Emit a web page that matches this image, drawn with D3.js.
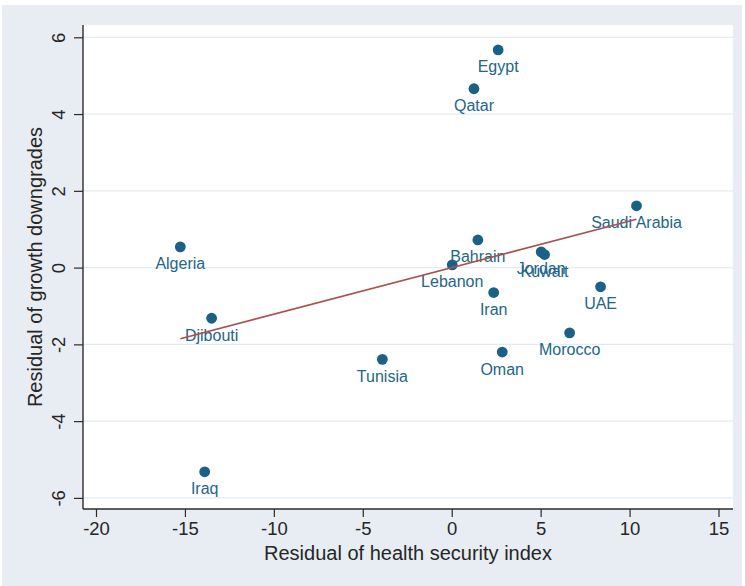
<!DOCTYPE html>
<html>
<head>
<meta charset="utf-8">
<script src="https://cdn.jsdelivr.net/npm/d3@7"></script>
<style>
  body { margin: 0; background: #ffffff; }
  svg { display: block; font-family: "Liberation Sans", Arial, Helvetica, sans-serif; }
</style>
</head>
<body>
<svg id="chart" width="745" height="586"></svg>
<script>
// Country residuals: health security index (x) vs growth downgrades (y)
const countries = ["Egypt", "Qatar", "Saudi Arabia", "Algeria", "Bahrain", "Lebanon",
  "Jordan", "Kuwait", "Iran", "UAE", "Morocco", "Oman", "Tunisia", "Djibouti", "Iraq"];
const healthResid = [2.61, 1.25, 10.39, -15.26, 1.47, 0.03,
  5.03, 5.22, 2.36, 8.37, 6.63, 2.84, -3.90, -13.50, -13.89];
const growthResid = [5.67, 4.66, 1.61, 0.54, 0.72, 0.07,
  0.41, 0.34, -0.65, -0.50, -1.70, -2.20, -2.39, -1.32, -5.32];

const xTicks = [-20, -15, -10, -5, 0, 5, 10, 15];
const yTicks = [-6, -4, -2, 0, 2, 4, 6];

const xTitle = "Residual of health security index";
const yTitle = "Residual of growth downgrades";

const svg = d3.select("#chart");
const W = 745, H = 586;

// plot region
const plot = { left: 83, right: 733, top: 25, bottom: 509 };

const x = d3.scaleLinear().domain([-20, 15]).range([96, 718.5]);
const y = d3.scaleLinear().domain([-6, 6]).range([497.9, 37.3]);

const markerColor = "#1b6187";
const labelColor = "#22668a";
const axisColor = "#2b2b2b";
const textColor = "#262626";

// plain hyphen-minus tick labels
const tickFmt = d => String(d);

// graph region background
svg.append("rect")
  .attr("x", 2).attr("y", 5)
  .attr("width", 740).attr("height", H - 5)
  .attr("fill", "#e7edf2");

// plot region
svg.append("rect")
  .attr("x", plot.left).attr("y", plot.top)
  .attr("width", plot.right - plot.left).attr("height", plot.bottom - plot.top)
  .attr("fill", "#ffffff");

// horizontal gridlines
svg.append("g")
  .selectAll("line")
  .data(yTicks)
  .join("line")
  .attr("x1", plot.left).attr("x2", plot.right)
  .attr("y1", d => y(d)).attr("y2", d => y(d))
  .attr("stroke", "#e3ebf1")
  .attr("stroke-width", 1.2);

// x axis
const xAxis = svg.append("g")
  .attr("transform", `translate(0,${plot.bottom})`)
  .call(d3.axisBottom(x).tickValues(xTicks).tickFormat(tickFmt)
    .tickSize(8).tickPadding(5).tickSizeOuter(0));
xAxis.select(".domain").remove();
xAxis.selectAll(".tick line").attr("stroke", axisColor).attr("stroke-width", 1.2);
xAxis.selectAll(".tick text")
  .attr("fill", textColor)
  .attr("font-size", 18.5)
  .attr("font-family", "Liberation Sans, Arial, sans-serif");
svg.append("line")
  .attr("x1", plot.left).attr("x2", plot.right)
  .attr("y1", plot.bottom).attr("y2", plot.bottom)
  .attr("stroke", axisColor).attr("stroke-width", 1.4);

// y axis with vertical tick labels
const yAxis = svg.append("g")
  .attr("transform", `translate(${plot.left},0)`)
  .call(d3.axisLeft(y).tickValues(yTicks).tickFormat(tickFmt).tickSize(9).tickSizeOuter(0));
yAxis.select(".domain").remove();
yAxis.selectAll(".tick line").attr("stroke", axisColor).attr("stroke-width", 1.2);
yAxis.selectAll(".tick text")
  .attr("fill", textColor)
  .attr("font-size", 18.5)
  .attr("font-family", "Liberation Sans, Arial, sans-serif")
  .attr("x", null).attr("dy", null)
  .attr("text-anchor", "middle")
  .attr("transform", "translate(-18.5,0) rotate(-90)");
svg.append("line")
  .attr("x1", plot.left).attr("x2", plot.left)
  .attr("y1", plot.top).attr("y2", plot.bottom)
  .attr("stroke", axisColor).attr("stroke-width", 1.4);

// axis titles
svg.append("text")
  .attr("x", (plot.left + plot.right) / 2)
  .attr("y", 559.5)
  .attr("text-anchor", "middle")
  .attr("font-size", 20)
  .attr("fill", textColor)
  .text(xTitle);

svg.append("text")
  .attr("transform", `translate(42,${(plot.top + plot.bottom) / 2}) rotate(-90)`)
  .attr("text-anchor", "middle")
  .attr("font-size", 20)
  .attr("fill", textColor)
  .text(yTitle);

// least-squares fit line over the observed x range
const pts = countries.map((c, i) => ({ name: c, hx: healthResid[i], gy: growthResid[i] }));
const mx = d3.mean(pts, d => d.hx);
const my = d3.mean(pts, d => d.gy);
const sxy = d3.sum(pts, d => (d.hx - mx) * (d.gy - my));
const sxx = d3.sum(pts, d => (d.hx - mx) ** 2);
const slope = sxy / sxx;
const intercept = my - slope * mx;
const [xmin, xmax] = d3.extent(pts, d => d.hx);

// markers
svg.append("g")
  .selectAll("circle")
  .data(pts)
  .join("circle")
  .attr("cx", d => x(d.hx))
  .attr("cy", d => y(d.gy))
  .attr("r", 5.4)
  .attr("fill", markerColor);

// marker labels, below each point
svg.append("g")
  .selectAll("text")
  .data(pts)
  .join("text")
  .attr("x", d => x(d.hx))
  .attr("y", d => y(d.gy) + 22.5)
  .attr("text-anchor", "middle")
  .attr("font-size", 16)
  .attr("fill", labelColor)
  .text(d => d.name);

svg.append("line")
  .attr("x1", x(xmin)).attr("y1", y(intercept + slope * xmin))
  .attr("x2", x(xmax)).attr("y2", y(intercept + slope * xmax))
  .attr("stroke", "#a9504f")
  .attr("stroke-width", 1.6);
</script>
</body>
</html>
